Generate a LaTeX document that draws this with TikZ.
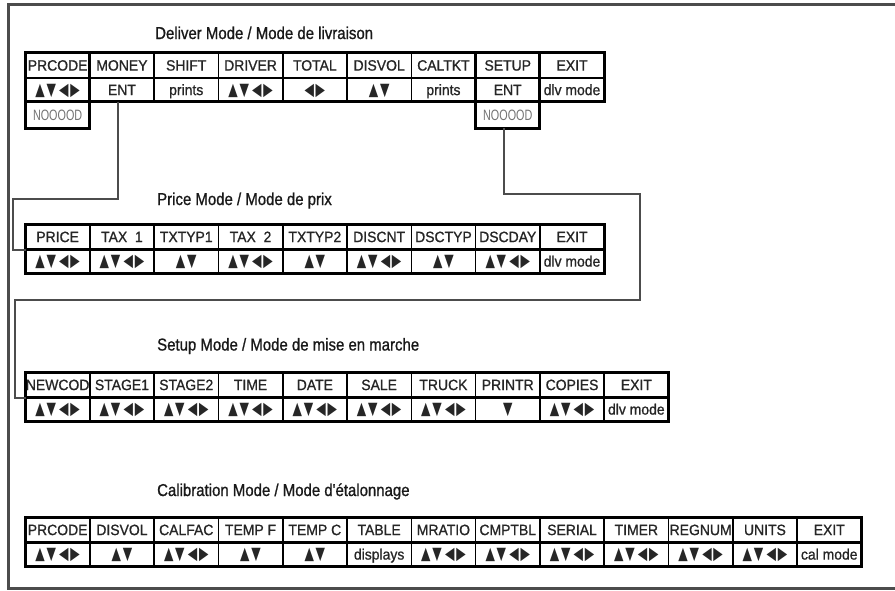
\documentclass[tikz,border=0pt]{standalone}
\usepackage{fontspec}
\setmainfont{Liberation Sans}
\newfontfamily\titlefont{Liberation Sans}[FakeStretch=0.87,FakeBold=0.9]
\newfontfamily\cellfont{Liberation Sans}[FakeStretch=0.93,FakeBold=0.9]
\newfontfamily\nofont{Liberation Sans}[FakeStretch=0.72]
\newfontfamily\arrowfont{DejaVu Sans}[FakeStretch=0.7]
\newcommand{\arw}{\arrowfont\fontsize{17.5}{18}\selectfont}
\newcommand{\symUDLR}{{\arw ▲\hspace{1.8pt}▼\hspace{3.2pt}◀\hspace{1.8pt}▶}}
\newcommand{\symUD}{{\arw ▲\hspace{1.8pt}▼}}
\newcommand{\symLR}{{\arw ◀\hspace{1.8pt}▶}}
\newcommand{\symD}{{\arw ▼}}
\tikzset{
  hcell/.style={draw=black, line width=1.6pt, minimum width=64.3pt, minimum height=25.5pt,
    inner sep=0pt, outer sep=0pt, anchor=north west, text height=10.7pt, text depth=0pt,
    font={\cellfont\fontsize{15}{16}\selectfont}, text=black!85},
  vcell/.style={hcell, minimum height=23.5pt},
  ncell/.style={hcell, minimum height=26.5pt, font={\nofont\fontsize{15}{16}\selectfont}, text=black!55},
  outer/.style={draw=black, line width=3pt},
  sepline/.style={draw=black, line width=2.5pt},
  conn/.style={draw=black!70, line width=2pt},
  frameline/.style={draw=black!70, line width=3pt},
  ttl/.style={anchor=base west, inner sep=0pt, font={\titlefont\fontsize{17.2}{20}\selectfont}, text=black!90}
}
\begin{document}
\begin{tikzpicture}[x=1pt,y=-1pt]
\useasboundingbox (0,0) rectangle (895,590);
\fill[white] (0,0) rectangle (895,590);
% frame
\draw[frameline] (895,4.8) -- (8,4.8) -- (8,588) -- (895,588);

% ---------- Deliver Mode ----------
\node[ttl] (tD) at (155,39) {Deliver Mode / Mode de livraison};
\foreach \t [count=\i] in {PRCODE,MONEY,SHIFT,DRIVER,TOTAL,DISVOL,CALTKT,SETUP,EXIT}
  \node[hcell] (Dh\i) at ({25.5+64.3*(\i-1)},52.5) {\t};
\foreach \t [count=\i] in {\symUDLR,ENT,prints,\symUDLR,\symLR,\symUD,prints,ENT,dlv mode}
  \node[vcell] (Dv\i) at ({25.5+64.3*(\i-1)},78) {\t};
\node[ncell] (Dn1) at (25.5,101.5) {NOOOOD};
\node[ncell] (Dn8) at ({25.5+64.3*7},101.5) {NOOOOD};
\draw[outer] (Dh1.north west) rectangle (Dv9.south east);
\draw[sepline] (Dv1.north west) -- (Dv9.north east);
\draw[outer] (Dh1.north west) rectangle (Dn1.south east);
\draw[outer] (Dh8.north west) rectangle (Dn8.south east);

% ---------- Price Mode ----------
\node[ttl] (tP) at (157,205) {Price Mode / Mode de prix};
\foreach \t [count=\i] in {PRICE,TAX\ \ 1,TXTYP1,TAX\ \ 2,TXTYP2,DISCNT,DSCTYP,DSCDAY,EXIT}
  \node[hcell] (Ph\i) at ({25.5+64.3*(\i-1)},224) {\t};
\foreach \t [count=\i] in {\symUDLR,\symUDLR,\symUD,\symUDLR,\symUD,\symUDLR,\symUD,\symUDLR,dlv mode}
  \node[vcell] (Pv\i) at ({25.5+64.3*(\i-1)},249.5) {\t};
\draw[outer] (Ph1.north west) rectangle (Pv9.south east);
\draw[sepline] (Pv1.north west) -- (Pv9.north east);

% ---------- Setup Mode ----------
\node[ttl] (tS) at (157,350.5) {Setup Mode / Mode de mise en marche};
\foreach \t [count=\i] in {NEWCOD,STAGE1,STAGE2,TIME,DATE,SALE,TRUCK,PRINTR,COPIES,EXIT}
  \node[hcell] (Sh\i) at ({25.5+64.3*(\i-1)},372) {\t};
\foreach \t [count=\i] in {\symUDLR,\symUDLR,\symUDLR,\symUDLR,\symUDLR,\symUDLR,\symUDLR,\symD,\symUDLR,dlv mode}
  \node[vcell] (Sv\i) at ({25.5+64.3*(\i-1)},397.5) {\t};
\draw[outer] (Sh1.north west) rectangle (Sv10.south east);
\draw[sepline] (Sv1.north west) -- (Sv10.north east);

% ---------- Calibration Mode ----------
\node[ttl] (tC) at (157,496) {Calibration Mode / Mode d'étalonnage};
\foreach \t [count=\i] in {PRCODE,DISVOL,CALFAC,TEMP F,TEMP C,TABLE,MRATIO,CMPTBL,SERIAL,TIMER,REGNUM,UNITS,EXIT}
  \node[hcell] (Ch\i) at ({25.5+64.3*(\i-1)},517) {\t};
\foreach \t [count=\i] in {\symUDLR,\symUD,\symUDLR,\symUD,\symUD,displays,\symUDLR,\symUDLR,\symUDLR,\symUDLR,\symUDLR,\symUDLR,cal mode}
  \node[vcell] (Cv\i) at ({25.5+64.3*(\i-1)},542.5) {\t};
\draw[outer] (Ch1.north west) rectangle (Cv13.south east);
\draw[sepline] (Cv1.north west) -- (Cv13.north east);

% ---------- connectors ----------
\coordinate (k1) at (13.3,199.3);
\draw[conn] ([xshift=-3.7pt]Dv2.south) |- (k1) |- (Pv1.north west);
\coordinate (k2) at (639.5,194);
\coordinate (k3) at (15,300);
\draw[conn] ([xshift=-3.7pt]Dn8.south) |- (k2) |- (k3) |- (Sv1.north west);
\end{tikzpicture}
\end{document}
